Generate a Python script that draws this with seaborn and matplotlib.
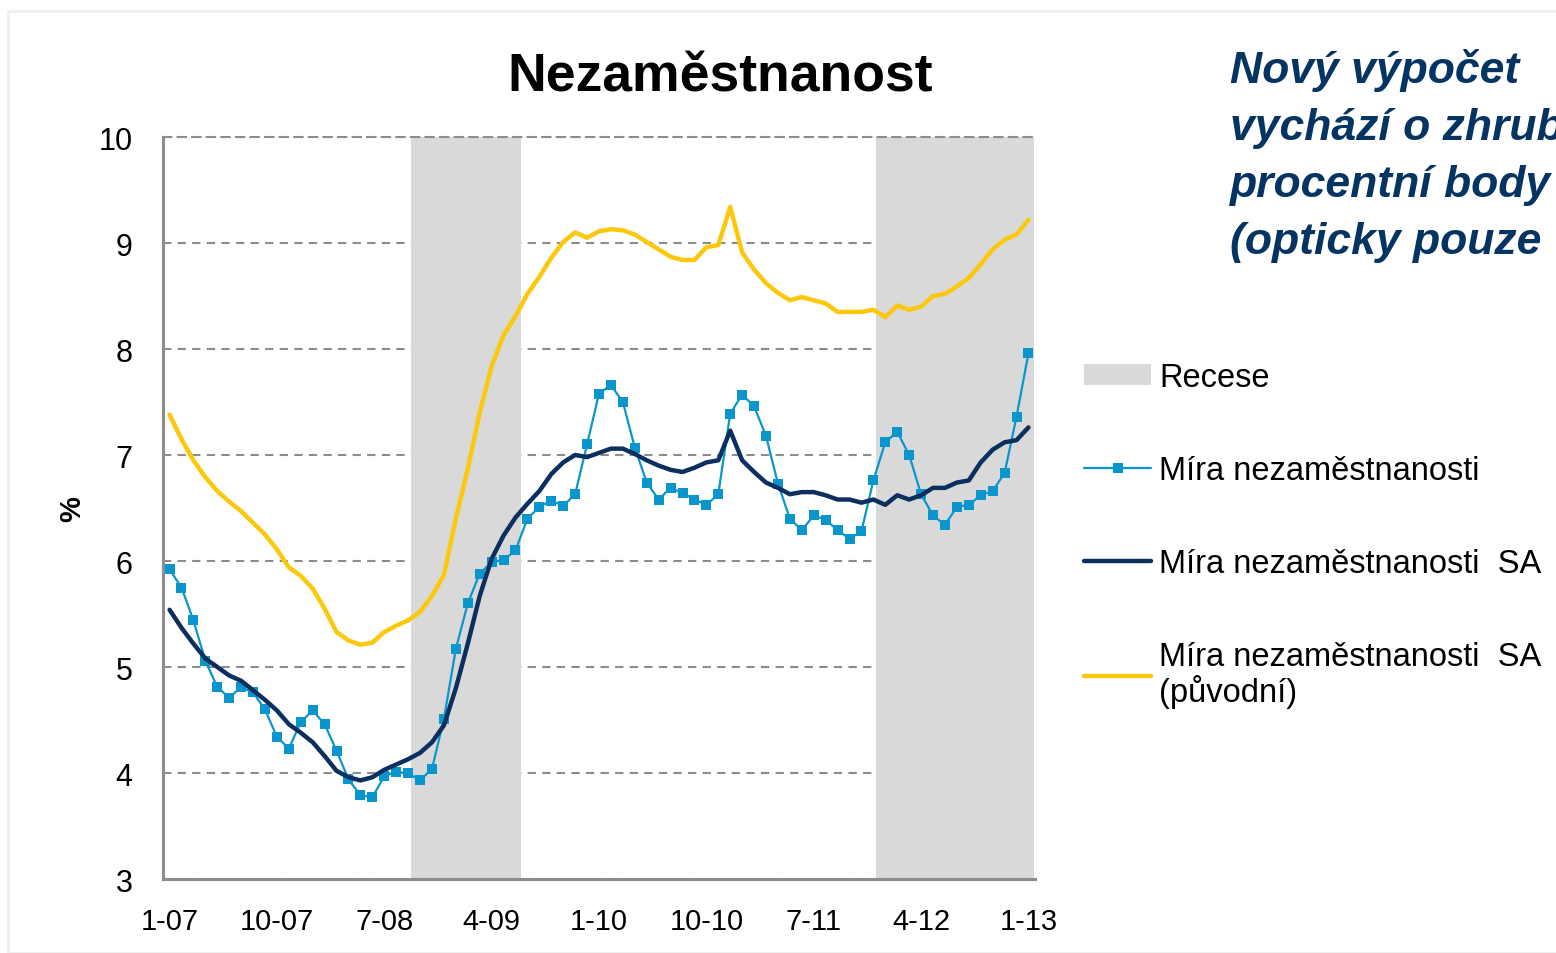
"""Nezaměstnanost – monthly unemployment rate with recession shading."""

import matplotlib

matplotlib.use("Agg")

import matplotlib.pyplot as plt
import numpy as np
import pandas as pd
import seaborn as sns
from matplotlib.lines import Line2D
from matplotlib.patches import Patch, Rectangle


# monthly data 1-07 .. 1-13
start_month = "2007-01"
n_months = 73

mira = [
    5.92, 5.75, 5.44, 5.06, 4.81, 4.71, 4.81, 4.76, 4.60, 4.34, 4.23, 4.48,
    4.59, 4.46, 4.21, 3.94, 3.79, 3.77, 3.97, 4.01, 4.00, 3.93, 4.04, 4.51,
    5.17, 5.60, 5.88, 5.99, 6.01, 6.10, 6.40, 6.51, 6.57, 6.52, 6.63, 7.10,
    7.58, 7.66, 7.50, 7.07, 6.74, 6.58, 6.69, 6.64, 6.58, 6.53, 6.63, 7.39,
    7.57, 7.46, 7.18, 6.73, 6.40, 6.29, 6.43, 6.39, 6.29, 6.21, 6.28, 6.76,
    7.12, 7.22, 7.00, 6.63, 6.43, 6.34, 6.51, 6.53, 6.62, 6.66, 6.83, 7.36,
    7.96,
]
mira_sa = [
    5.54, 5.37, 5.22, 5.08, 5.00, 4.92, 4.87, 4.78, 4.69, 4.59, 4.46, 4.38,
    4.29, 4.16, 4.02, 3.96, 3.93, 3.96, 4.03, 4.08, 4.13, 4.19, 4.29, 4.45,
    4.80, 5.22, 5.67, 6.02, 6.24, 6.41, 6.54, 6.66, 6.82, 6.93, 7.00, 6.98,
    7.02, 7.06, 7.06, 7.01, 6.95, 6.90, 6.86, 6.84, 6.88, 6.93, 6.95, 7.23,
    6.95, 6.84, 6.74, 6.69, 6.63, 6.65, 6.65, 6.62, 6.58, 6.58, 6.55, 6.58,
    6.53, 6.62, 6.58, 6.62, 6.69, 6.69, 6.74, 6.76, 6.93, 7.05, 7.12, 7.14,
    7.26,
]
mira_sa_puvodni = [
    7.38, 7.15, 6.95, 6.79, 6.66, 6.56, 6.47, 6.36, 6.25, 6.11, 5.94, 5.86,
    5.74, 5.55, 5.33, 5.25, 5.21, 5.23, 5.33, 5.39, 5.44, 5.52, 5.67, 5.87,
    6.40, 6.87, 7.40, 7.84, 8.13, 8.31, 8.52, 8.68, 8.86, 9.01, 9.10, 9.05,
    9.11, 9.13, 9.12, 9.08, 9.01, 8.94, 8.87, 8.84, 8.84, 8.96, 8.98, 9.34,
    8.91, 8.75, 8.62, 8.53, 8.46, 8.49, 8.46, 8.43, 8.35, 8.35, 8.35, 8.37,
    8.30, 8.41, 8.37, 8.40, 8.50, 8.52, 8.59, 8.67, 8.80, 8.94, 9.03, 9.08,
    9.22,
]

recessions = [("2008-10", "2009-06"), ("2012-01", "2013-01")]
tick_labels = ["1-07", "10-07", "7-08", "4-09", "1-10", "10-10", "7-11", "4-12", "1-13"]
y_ticks = [3, 4, 5, 6, 7, 8, 9, 10]

months = pd.date_range(start_month, periods=n_months, freq="MS")
df = pd.DataFrame({
    "t": np.arange(n_months),
    "mira": mira,
    "mira_sa": mira_sa,
    "mira_sa_puvodni": mira_sa_puvodni,
})

C_LIGHT = "#0A96CD"
C_NAVY = "#0B2F5E"
C_YELLOW = "#FCC80C"
C_SHADE = "#D9D9D9"
C_AXIS = "#8C8C8C"

sns.set_theme(style="white")
plt.rcParams["font.family"] = ["Liberation Sans", "DejaVu Sans"]
plt.rcParams["text.color"] = "black"

fig = plt.figure(figsize=(15.56, 9.54), dpi=100)
ax = fig.add_axes([163 / 1556, 1 - 880 / 954, (1035 - 163) / 1556, (880 - 138) / 954])

# recession shading
for a, b in recessions:
    i0 = months.get_loc(pd.Timestamp(a))
    i1 = months.get_loc(pd.Timestamp(b))
    ax.axvspan(i0 - 0.75, i1 + 0.5, color=C_SHADE, lw=0, zorder=1)

sns.lineplot(data=df, x="t", y="mira_sa_puvodni", ax=ax, color=C_YELLOW, lw=3.2, zorder=3)
sns.lineplot(data=df, x="t", y="mira", ax=ax, color=C_LIGHT, lw=1.6, marker="s",
             markersize=7, markeredgewidth=0, zorder=4)
sns.lineplot(data=df, x="t", y="mira_sa", ax=ax, color=C_NAVY, lw=3.2, zorder=5)

ax.set_xlim(-0.55, 72.55)
ax.set_ylim(3, 10)
ax.set_yticks(y_ticks)
ax.set_xticks(np.arange(0, n_months, 9))
ax.set_xticklabels(tick_labels)
ax.tick_params(axis="both", length=0, labelsize=21, colors="black")
ax.tick_params(axis="y", labelsize=22, pad=22)
ax.tick_params(axis="x", pad=20)
ax.set_xlabel("")
ax.set_ylabel("%", fontsize=21, fontweight="bold", color="black", labelpad=9)

ax.yaxis.grid(True, color=C_AXIS, linestyle=(0, (4, 3)), lw=1.5, zorder=0)
ax.set_axisbelow(True)
for side in ["left", "bottom"]:
    ax.spines[side].set_color(C_AXIS)
    ax.spines[side].set_linewidth(2.2)
ax.spines["right"].set_visible(False)
ax.spines["top"].set_color(C_AXIS)
ax.spines["top"].set_linestyle((0, (4, 3)))
ax.spines["top"].set_linewidth(1.5)

fig.text(720 / 1556, 1 - 78 / 954, "Nezaměstnanost", fontsize=38.5, fontweight="bold",
         color="black", ha="center", va="center")

handles = [
    Patch(facecolor=C_SHADE, edgecolor="none"),
    Line2D([], [], color=C_LIGHT, lw=1.6, marker="s", markersize=7, markeredgewidth=0),
    Line2D([], [], color=C_NAVY, lw=3.2),
    Line2D([], [], color=C_YELLOW, lw=3.2),
]
labels = [
    "Recese",
    "Míra nezaměstnanosti",
    "Míra nezaměstnanosti  SA",
    "Míra nezaměstnanosti  SA\n(původní)",
]
leg = fig.legend(handles, labels, loc="upper left", bbox_to_anchor=(1068 / 1556, 1 - 347 / 954),
                 frameon=False, fontsize=23.5, handlelength=2.05, handleheight=0.62,
                 handletextpad=0.25, labelspacing=1.9, borderpad=0)
for txt in leg.get_texts():
    txt.set_color("black")
    txt.set_linespacing(1.05)

fig.text(1230 / 1556, 1 - 49 / 954,
         "Nový výpočet\nvychází o zhruba\nprocentní body\n(opticky pouze",
         fontsize=32, fontweight="bold", fontstyle="italic", color="#063462",
         ha="left", va="top", linespacing=1.5)

fig.patches.append(Rectangle((8 / 1556, 0), 1, 1 - 12 / 954, transform=fig.transFigure,
                             fill=False, edgecolor="#EEEEEE", lw=2))

fig.savefig("out.png", dpi=100)
plt.close(fig)
